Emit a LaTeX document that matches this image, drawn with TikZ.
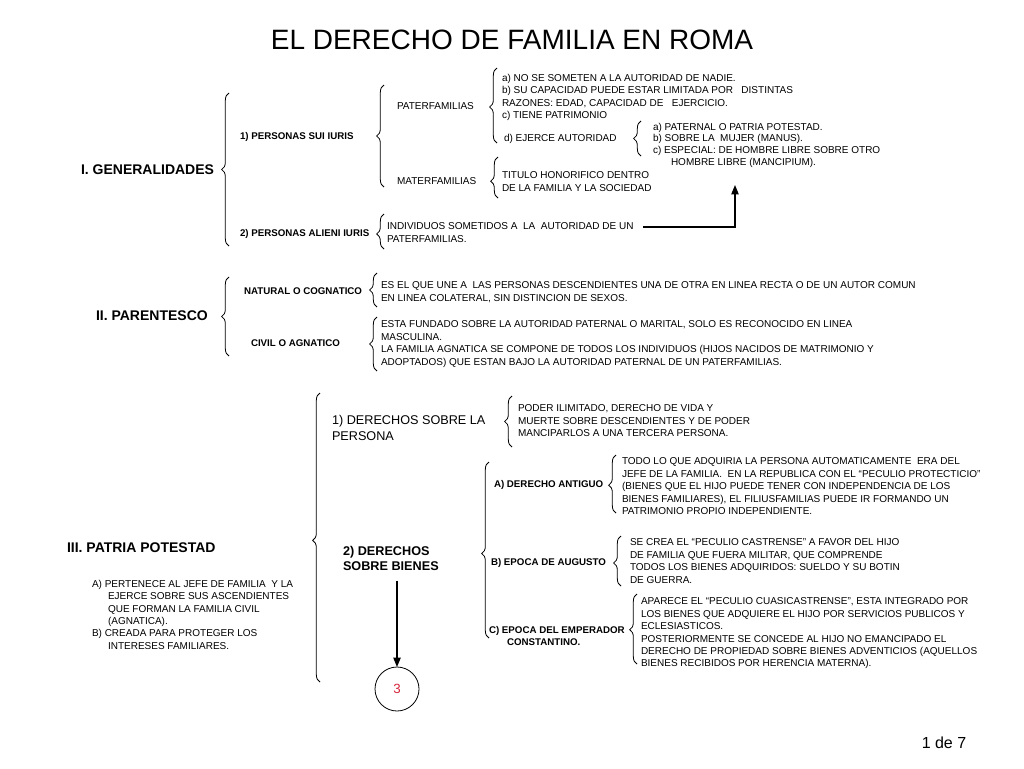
\documentclass[tikz,border=0pt]{standalone}
\usepackage{fontspec}
\setmainfont{Liberation Sans}
\usepackage{xcolor}
\usepackage{tikz}
\usetikzlibrary{positioning,arrows.meta,calc,decorations.pathreplacing}
\definecolor{numRojo}{HTML}{D7263D}

\begin{document}
\begin{tikzpicture}[
  x=0.75pt, y=-0.75pt,
  every node/.style={inner sep=0pt, outer sep=0pt},
  txt/.style={font=\fontsize{7.5}{9.3}\selectfont, align=left, anchor=north west},
  sub/.style={font=\fontsize{7.3}{9.1}\selectfont\bfseries, align=left, anchor=west},
  tema/.style={font=\fontsize{10.5}{12.6}\selectfont\bfseries, anchor=west},
  medio/.style={font=\fontsize{9.5}{12}\selectfont, align=left, anchor=north west},
  llave/.style={decorate, decoration={brace, amplitude=5.5pt, aspect=#1}, line width=0.6pt},
  llave/.default=0.5,
  flecha/.style={-{Triangle[length=7pt, width=5.5pt]}, line width=0.9pt}
]
  \useasboundingbox (0,0) rectangle (1024,768);
  \node[font=\fontsize{21}{25}\selectfont] (titulo) at (512,40) {EL DERECHO DE FAMILIA EN ROMA};
  \node[tema] (gen) at (81,170) {I. GENERALIDADES};
  \node[sub] (sui) at (240,137) {1) PERSONAS SUI IURIS};
  \node[txt, anchor=west] (pater) at (397,106) {PATERFAMILIAS};
  \node[txt] (paterA) at (502,74) {a) NO SE SOMETEN A LA AUTORIDAD DE NADIE.\\ b) SU CAPACIDAD PUEDE ESTAR LIMITADA POR \ \ DISTINTAS\\ RAZONES: EDAD, CAPACIDAD DE \ \ EJERCICIO.\\ c) TIENE PATRIMONIO};
  \node[txt, anchor=west] (ejerce) at (504,139) {d) EJERCE AUTORIDAD};
  \node[txt, font=\fontsize{7.5}{8.8}\selectfont] (potes) at (653,123) {a) PATERNAL O PATRIA POTESTAD.\\ b) SOBRE LA \ MUJER (MANUS).\\ c) ESPECIAL: DE HOMBRE LIBRE SOBRE OTRO\\ \hspace*{13.5pt}HOMBRE LIBRE (MANCIPIUM).};
  \node[txt, anchor=west] (mater) at (397,181) {MATERFAMILIAS};
  \node[txt] (honor) at (502,172) {TITULO HONORIFICO DENTRO\\ DE LA FAMILIA Y LA SOCIEDAD};
  \node[sub] (alieni) at (240,234) {2) PERSONAS ALIENI IURIS};
  \node[txt] (indiv) at (387,223) {INDIVIDUOS SOMETIDOS A \ LA \ AUTORIDAD DE UN\\ PATERFAMILIAS.};
  \coordinate (indivfin) at (643,227);
  \coordinate (mancip) at (735,185);
  \node[tema] (par) at (96,316) {II. PARENTESCO};
  \node[sub] (natural) at (244,291) {NATURAL O COGNATICO};
  \node[txt] (naturaltxt) at (381,282) {ES EL QUE UNE A \ LAS PERSONAS DESCENDIENTES UNA DE OTRA EN LINEA RECTA O DE UN AUTOR COMUN\\ EN LINEA COLATERAL, SIN DISTINCION DE SEXOS.};
  \node[sub] (civil) at (251,343) {CIVIL O AGNATICO};
  \node[txt] (civiltxt) at (381,321) {ESTA FUNDADO SOBRE LA AUTORIDAD PATERNAL O MARITAL, SOLO ES RECONOCIDO EN LINEA\\ MASCULINA.\\ LA FAMILIA AGNATICA SE COMPONE DE TODOS LOS INDIVIDUOS (HIJOS NACIDOS DE MATRIMONIO Y\\ ADOPTADOS) QUE ESTAN BAJO LA AUTORIDAD PATERNAL DE UN PATERFAMILIAS.};
  \node[tema] (pp) at (67,548) {III. PATRIA POTESTAD};
  \node[txt] (ppnotas) at (92,580) {A) PERTENECE AL JEFE DE FAMILIA \ Y LA\\ \hspace*{12pt}EJERCE SOBRE SUS ASCENDIENTES\\ \hspace*{12pt}QUE FORMAN LA FAMILIA CIVIL\\ \hspace*{12pt}(AGNATICA).\\ B) CREADA PARA PROTEGER LOS\\ \hspace*{12pt}INTERESES FAMILIARES.};
  \node[medio] (dsp) at (332,415) {1) DERECHOS SOBRE LA\\ PERSONA};
  \node[txt] (dsptxt) at (518,405) {PODER ILIMITADO, DERECHO DE VIDA Y\\ MUERTE SOBRE DESCENDIENTES Y DE PODER\\ MANCIPARLOS A UNA TERCERA PERSONA.};
  \node[medio, font=\fontsize{9.5}{11.4}\selectfont\bfseries] (dsb) at (343,546) {2) DERECHOS\\ SOBRE BIENES};
  \node[sub] (ant) at (494,485) {A) DERECHO ANTIGUO};
  \node[txt] (anttxt) at (622,458) {TODO LO QUE ADQUIRIA LA PERSONA AUTOMATICAMENTE \ ERA DEL\\ JEFE DE LA FAMILIA. \ EN LA REPUBLICA CON EL “PECULIO PROTECTICIO”\\ (BIENES QUE EL HIJO PUEDE TENER CON INDEPENDENCIA DE LOS\\ BIENES FAMILIARES), EL FILIUSFAMILIAS PUEDE IR FORMANDO UN\\ PATRIMONIO PROPIO INDEPENDIENTE.};
  \node[sub] (aug) at (491,563) {B) EPOCA DE AUGUSTO};
  \node[txt] (augtxt) at (630,539) {SE CREA EL “PECULIO CASTRENSE” A FAVOR DEL HIJO\\ DE FAMILIA QUE FUERA MILITAR, QUE COMPRENDE\\ TODOS LOS BIENES ADQUIRIDOS: SUELDO Y SU BOTIN\\ DE GUERRA.};
  \node[sub, anchor=north west] (const) at (489,626) {C) EPOCA DEL EMPERADOR\\ \hspace*{13.5pt}CONSTANTINO.};
  \node[txt] (consttxt) at (641,598) {APARECE EL “PECULIO CUASICASTRENSE”, ESTA INTEGRADO POR\\ LOS BIENES QUE ADQUIERE EL HIJO POR SERVICIOS PUBLICOS Y\\ ECLESIASTICOS.\\ POSTERIORMENTE SE CONCEDE AL HIJO NO EMANCIPADO EL\\ DERECHO DE PROPIEDAD SOBRE BIENES ADVENTICIOS (AQUELLOS\\ BIENES RECIBIDOS POR HERENCIA MATERNA).};
  \node[circle, draw, line width=0.6pt, minimum size=33pt, text=numRojo, font=\fontsize{10}{12}\selectfont] (tres) at (397,689) {3};
  \node[font=\fontsize{12}{14}\selectfont] (pag) at (944,743) {1 de 7};
  \foreach \x/\ya/\yb/\a in {229/93/246/0.5, 384/85/187/0.5, 497/68/143/0.48, 641/121/156/0.5,
      498/157/198/0.41, 384/214/249/0.43, 229/277/356/0.5, 377/273/307/0.5, 377/317/371/0.5,
      320/393/682/0.49, 512/396/447/0.5, 489/462/638/0.48, 616/455/513/0.48, 621/536/586/0.46,
      637/594/664/0.49}
    \draw[llave=\a] (\x,\yb) -- (\x,\ya);
  \draw[flecha] (indivfin) -| (mancip);
  \draw[flecha] ($(tres |- dsb.south)+(0,10)$) -- (tres);
\end{tikzpicture}
\end{document}
